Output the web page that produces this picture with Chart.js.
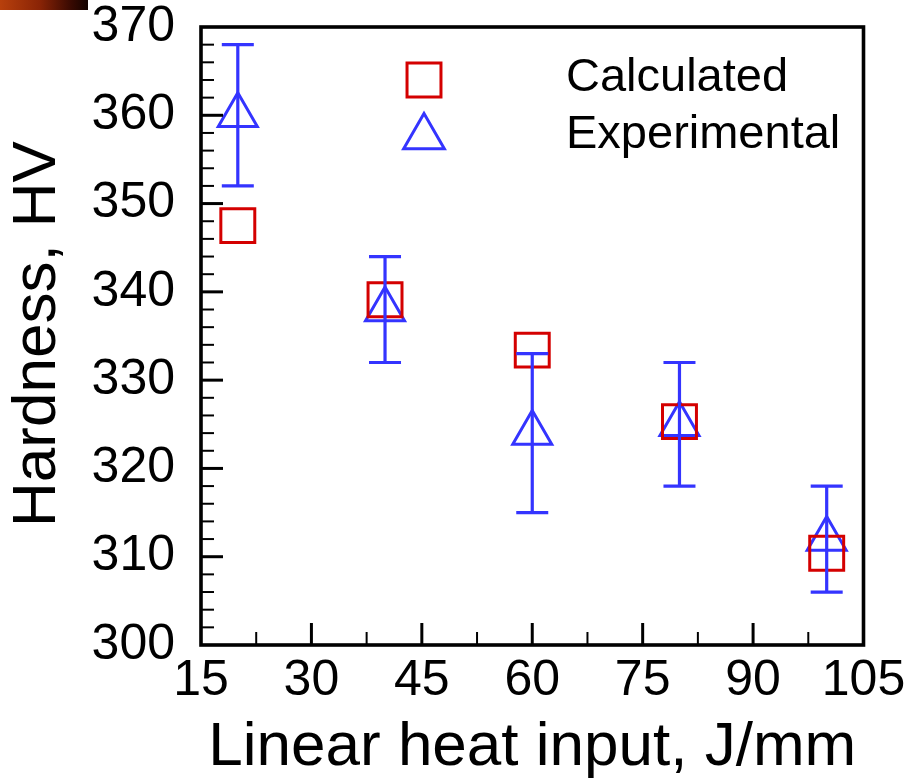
<!DOCTYPE html>
<html><head><meta charset="utf-8">
<script src="https://cdn.jsdelivr.net/npm/chart.js@4/dist/chart.umd.min.js"></script>
<style>
html,body{margin:0;padding:0;background:#fff;}
#wrap{position:relative;width:907px;height:781px;overflow:hidden;}
#corner{position:absolute;left:0;top:0;width:88px;height:10px;background:linear-gradient(to right,#b8400c 0%,#8a2406 45%,#3a0a02 80%,#120200 100%);}
canvas{display:block;}
</style></head><body>
<div id="wrap"><canvas id="c" width="907" height="781"></canvas><div id="corner"></div></div>
<script>
// ---- data ----
const heatInput = [20, 40, 60, 80, 100];
const calculated = [347.5, 339.1, 333.4, 325.3, 310.4];
const experimental = [360, 338, 324, 325, 312];
const experimentalError = [8, 6, 9, 7, 6];
const xTicks = [15, 30, 45, 60, 75, 90, 105];
const yTicks = [300, 310, 320, 330, 340, 350, 360, 370];
const seriesNames = ['Calculated', 'Experimental'];
const xTitle = 'Linear heat input, J/mm';
const yTitle = 'Hardness, HV';

// ---- styles ----
const FONT = "'Liberation Sans', Arial, sans-serif";
const RED = '#d40000';
const BLUE = '#3434ff';
const SQ_R = 24;
const TRI_R = 22.5;

const decor = {
  id: 'decor',
  afterDatasetsDraw(chart) {
    const ctx = chart.ctx, xs = chart.scales.x, ys = chart.scales.y;
    ctx.save();
    ctx.strokeStyle = BLUE;
    ctx.lineWidth = 3.2;
    ctx.lineCap = 'butt';
    heatInput.forEach((xv, i) => {
      const px = xs.getPixelForValue(xv);
      const lo = ys.getPixelForValue(experimental[i] - experimentalError[i]);
      const hi = ys.getPixelForValue(experimental[i] + experimentalError[i]);
      ctx.beginPath();
      ctx.moveTo(px, lo); ctx.lineTo(px, hi);
      ctx.moveTo(px - 16, lo); ctx.lineTo(px + 16, lo);
      ctx.moveTo(px - 16, hi); ctx.lineTo(px + 16, hi);
      ctx.stroke();
    });
    ctx.restore();
  },
  afterDraw(chart) {
    const ctx = chart.ctx, xs = chart.scales.x, ys = chart.scales.y;
    const a = chart.chartArea;
    ctx.save();
    ctx.strokeStyle = '#000';
    const tick = (x1, y1, x2, y2, w) => { ctx.lineWidth = w; ctx.beginPath(); ctx.moveTo(x1, y1); ctx.lineTo(x2, y2); ctx.stroke(); };
    for (let i = 0; i < xTicks.length - 1; i++) {
      const m = (xTicks[i] + xTicks[i + 1]) / 2;
      const px = xs.getPixelForValue(m);
      tick(px, a.bottom, px, a.bottom - 13, 2);
      if (i > 0) { const pj = xs.getPixelForValue(xTicks[i]); tick(pj, a.bottom, pj, a.bottom - 22, 3); }
    }
    for (let i = 0; i < yTicks.length - 1; i++) {
      for (let k = 1; k < 5; k++) {
        const v = yTicks[i] + (yTicks[i + 1] - yTicks[i]) * k / 5;
        const py = ys.getPixelForValue(v);
        tick(a.left, py, a.left + 13, py, 2);
      }
      if (i > 0) { const pj = ys.getPixelForValue(yTicks[i]); tick(a.left, pj, a.left + 22, pj, 3); }
    }
    ctx.lineWidth = 3.6;
    ctx.lineJoin = 'miter';
    ctx.strokeRect(a.left, a.top, a.right - a.left, a.bottom - a.top);

    // y title
    ctx.fillStyle = '#000';
    ctx.font = '62px ' + FONT;
    ctx.textAlign = 'center';
    ctx.textBaseline = 'middle';
    ctx.translate(38, (a.top + a.bottom) / 2 - 2);
    ctx.rotate(-Math.PI / 2);
    ctx.fillText(yTitle, 0, 0);
    ctx.restore();

    // legend
    ctx.save();
    const lx = a.left + 223, ly1 = a.top + 53, ly2 = a.top + 110;
    const ds = chart.data.datasets;
    ctx.strokeStyle = RED; ctx.lineWidth = 3;
    ctx.beginPath();
    const s = SQ_R * Math.SQRT1_2;
    ctx.rect(lx - s, ly1 - s, 2 * s, 2 * s);
    ctx.stroke();
    ctx.strokeStyle = BLUE;
    ctx.beginPath();
    const r = TRI_R + 1;
    ctx.moveTo(lx, ly2 - r);
    ctx.lineTo(lx + r * Math.sin(Math.PI * 2 / 3), ly2 + r / 2);
    ctx.lineTo(lx - r * Math.sin(Math.PI * 2 / 3), ly2 + r / 2);
    ctx.closePath();
    ctx.stroke();
    ctx.fillStyle = '#000';
    ctx.font = '47px ' + FONT;
    ctx.textAlign = 'left';
    ctx.textBaseline = 'middle';
    ctx.fillText(ds[0].label, a.left + 365, a.top + 51);
    ctx.fillText(ds[1].label, a.left + 365, a.top + 108);
    ctx.restore();
  }
};

const tickFont = {family: FONT, size: 50, lineHeight: 1.2};

new Chart(document.getElementById('c'), {
  type: 'scatter',
  data: {
    datasets: [
      {
        label: seriesNames[0],
        data: heatInput.map((x, i) => ({x: x, y: calculated[i]})),
        pointStyle: 'rect', pointRadius: SQ_R, pointHoverRadius: SQ_R,
        borderWidth: 3, borderColor: RED, backgroundColor: 'rgba(0,0,0,0)', clip: false
      },
      {
        label: seriesNames[1],
        data: heatInput.map((x, i) => ({x: x, y: experimental[i]})),
        pointStyle: 'triangle', pointRadius: TRI_R, pointHoverRadius: TRI_R,
        borderWidth: 3, borderColor: BLUE, backgroundColor: 'rgba(0,0,0,0)', clip: false
      }
    ]
  },
  options: {
    responsive: false, animation: false, devicePixelRatio: 1, events: [],
    layout: {padding: {left: 0, top: 27, right: 43.5, bottom: 0}},
    plugins: {legend: {display: false}, tooltip: {enabled: false}},
    scales: {
      x: {
        type: 'linear', min: xTicks[0], max: xTicks[xTicks.length - 1],
        afterBuildTicks: sc => { sc.ticks = xTicks.map(v => ({value: v})); },
        ticks: {font: tickFont, color: '#000', padding: 6, maxRotation: 0, autoSkip: false},
        grid: {display: false, drawTicks: false},
        border: {display: false},
        title: {display: true, text: xTitle, color: '#000', font: {family: FONT, size: 62, lineHeight: 1.07}, padding: 0},
        afterFit: sc => { sc.height = 136; sc.paddingLeft = 0; sc.paddingRight = 0; sc.paddingTop = 0; sc.paddingBottom = 0; }
      },
      y: {
        type: 'linear', min: yTicks[0], max: yTicks[yTicks.length - 1],
        afterBuildTicks: sc => { sc.ticks = yTicks.map(v => ({value: v})); },
        ticks: {font: tickFont, color: '#000', padding: 26, autoSkip: false},
        grid: {display: false, drawTicks: false},
        border: {display: false},
        title: {display: false, text: yTitle},
        afterFit: sc => { sc.width = 201; sc.paddingLeft = 0; sc.paddingRight = 0; sc.paddingTop = 0; sc.paddingBottom = 0; }
      }
    }
  },
  plugins: [decor]
});
</script>
</body></html>
